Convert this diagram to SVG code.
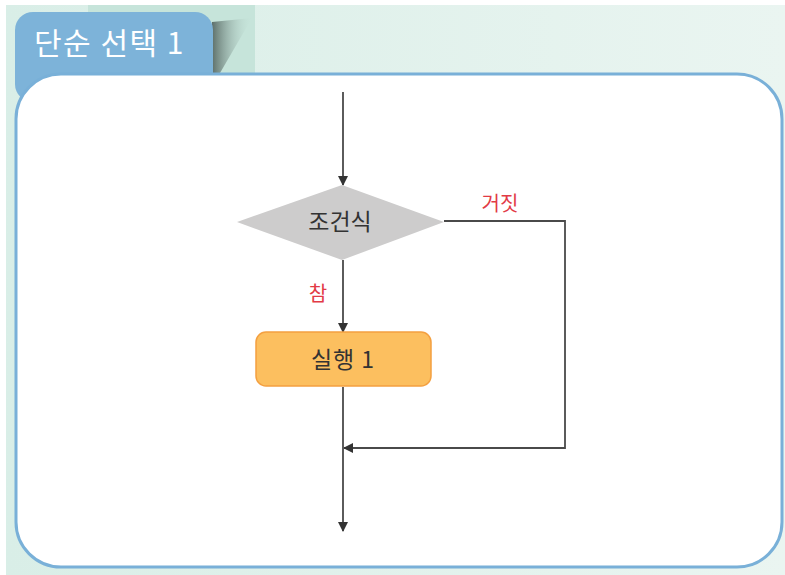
<svg xmlns="http://www.w3.org/2000/svg" width="785" height="575" viewBox="0 0 785 575">
<defs>
<style>
.ln{fill:none;stroke:#4a4a4a;stroke-width:1.8}
.t{font-family:"Noto Sans CJK KR","Noto Sans",sans-serif;fill:#333;font-size:23px;text-anchor:middle}
.red{font-family:"Noto Sans CJK KR","Noto Sans",sans-serif;fill:#e23a45;font-size:20px;text-anchor:middle}
</style>
<marker id="ah" viewBox="0 0 10 10" refX="9" refY="5" markerWidth="10" markerHeight="10" markerUnits="userSpaceOnUse" orient="auto">
<path d="M0,0 L10,5 L0,10 Z" fill="#333"/>
</marker>
<linearGradient id="bg" x1="0" y1="0" x2="1" y2="0">
<stop offset="0" stop-color="#d9eee7"/><stop offset="1" stop-color="#eaf5f1"/>
</linearGradient>
<linearGradient id="sh" x1="0" y1="0" x2="1" y2="0">
<stop offset="0" stop-color="#5d6f6a"/><stop offset="1" stop-color="#c4e2d8" stop-opacity="0"/>
</linearGradient>
</defs>
<rect x="0" y="0" width="785" height="575" fill="#ffffff"/>
<rect x="6" y="5" width="779" height="570" fill="url(#bg)"/>
<rect x="88" y="5" width="167" height="68" fill="#c6e4da"/>
<g id="tab">
<polygon points="212,22 252,18 220,73 212,73" fill="url(#sh)"/>
<rect x="15" y="12" width="198" height="90" rx="18" fill="#7db3d9"/>
<text x="34" y="54" style="font-family:'Noto Sans CJK KR','Noto Sans',sans-serif;font-size:30px;letter-spacing:1.5px;fill:#ffffff">단순 선택 1</text>
</g>
<g id="panel">
<rect x="16" y="74" width="766" height="493" rx="45" fill="#ffffff" stroke="#79b0d8" stroke-width="3"/>
</g>
<g id="connectors">
<line class="ln" x1="343" y1="92" x2="343" y2="185" marker-end="url(#ah)"/>
<line class="ln" x1="343" y1="260" x2="343" y2="332" marker-end="url(#ah)"/>
<polyline class="ln" points="444,221 565,221 565,448 344,448" marker-end="url(#ah)"/>
<line class="ln" x1="343" y1="387" x2="343" y2="531" marker-end="url(#ah)"/>
</g>
<g id="cond">
<polygon points="237,222 342,185 444,222 342,260" fill="#cdcccc"/>
<text class="t" x="340" y="230">조건식</text>
</g>
<g id="labels">
<text class="red" x="500" y="211">거짓</text>
<text class="red" x="318" y="301">참</text>
</g>
<g id="exec">
<rect x="256" y="332" width="175" height="54" rx="10" fill="#fcbf5f" stroke="#f4a040" stroke-width="1.5"/>
<text class="t" x="343" y="368" style="letter-spacing:1px">실행 1</text>
</g>
</svg>
